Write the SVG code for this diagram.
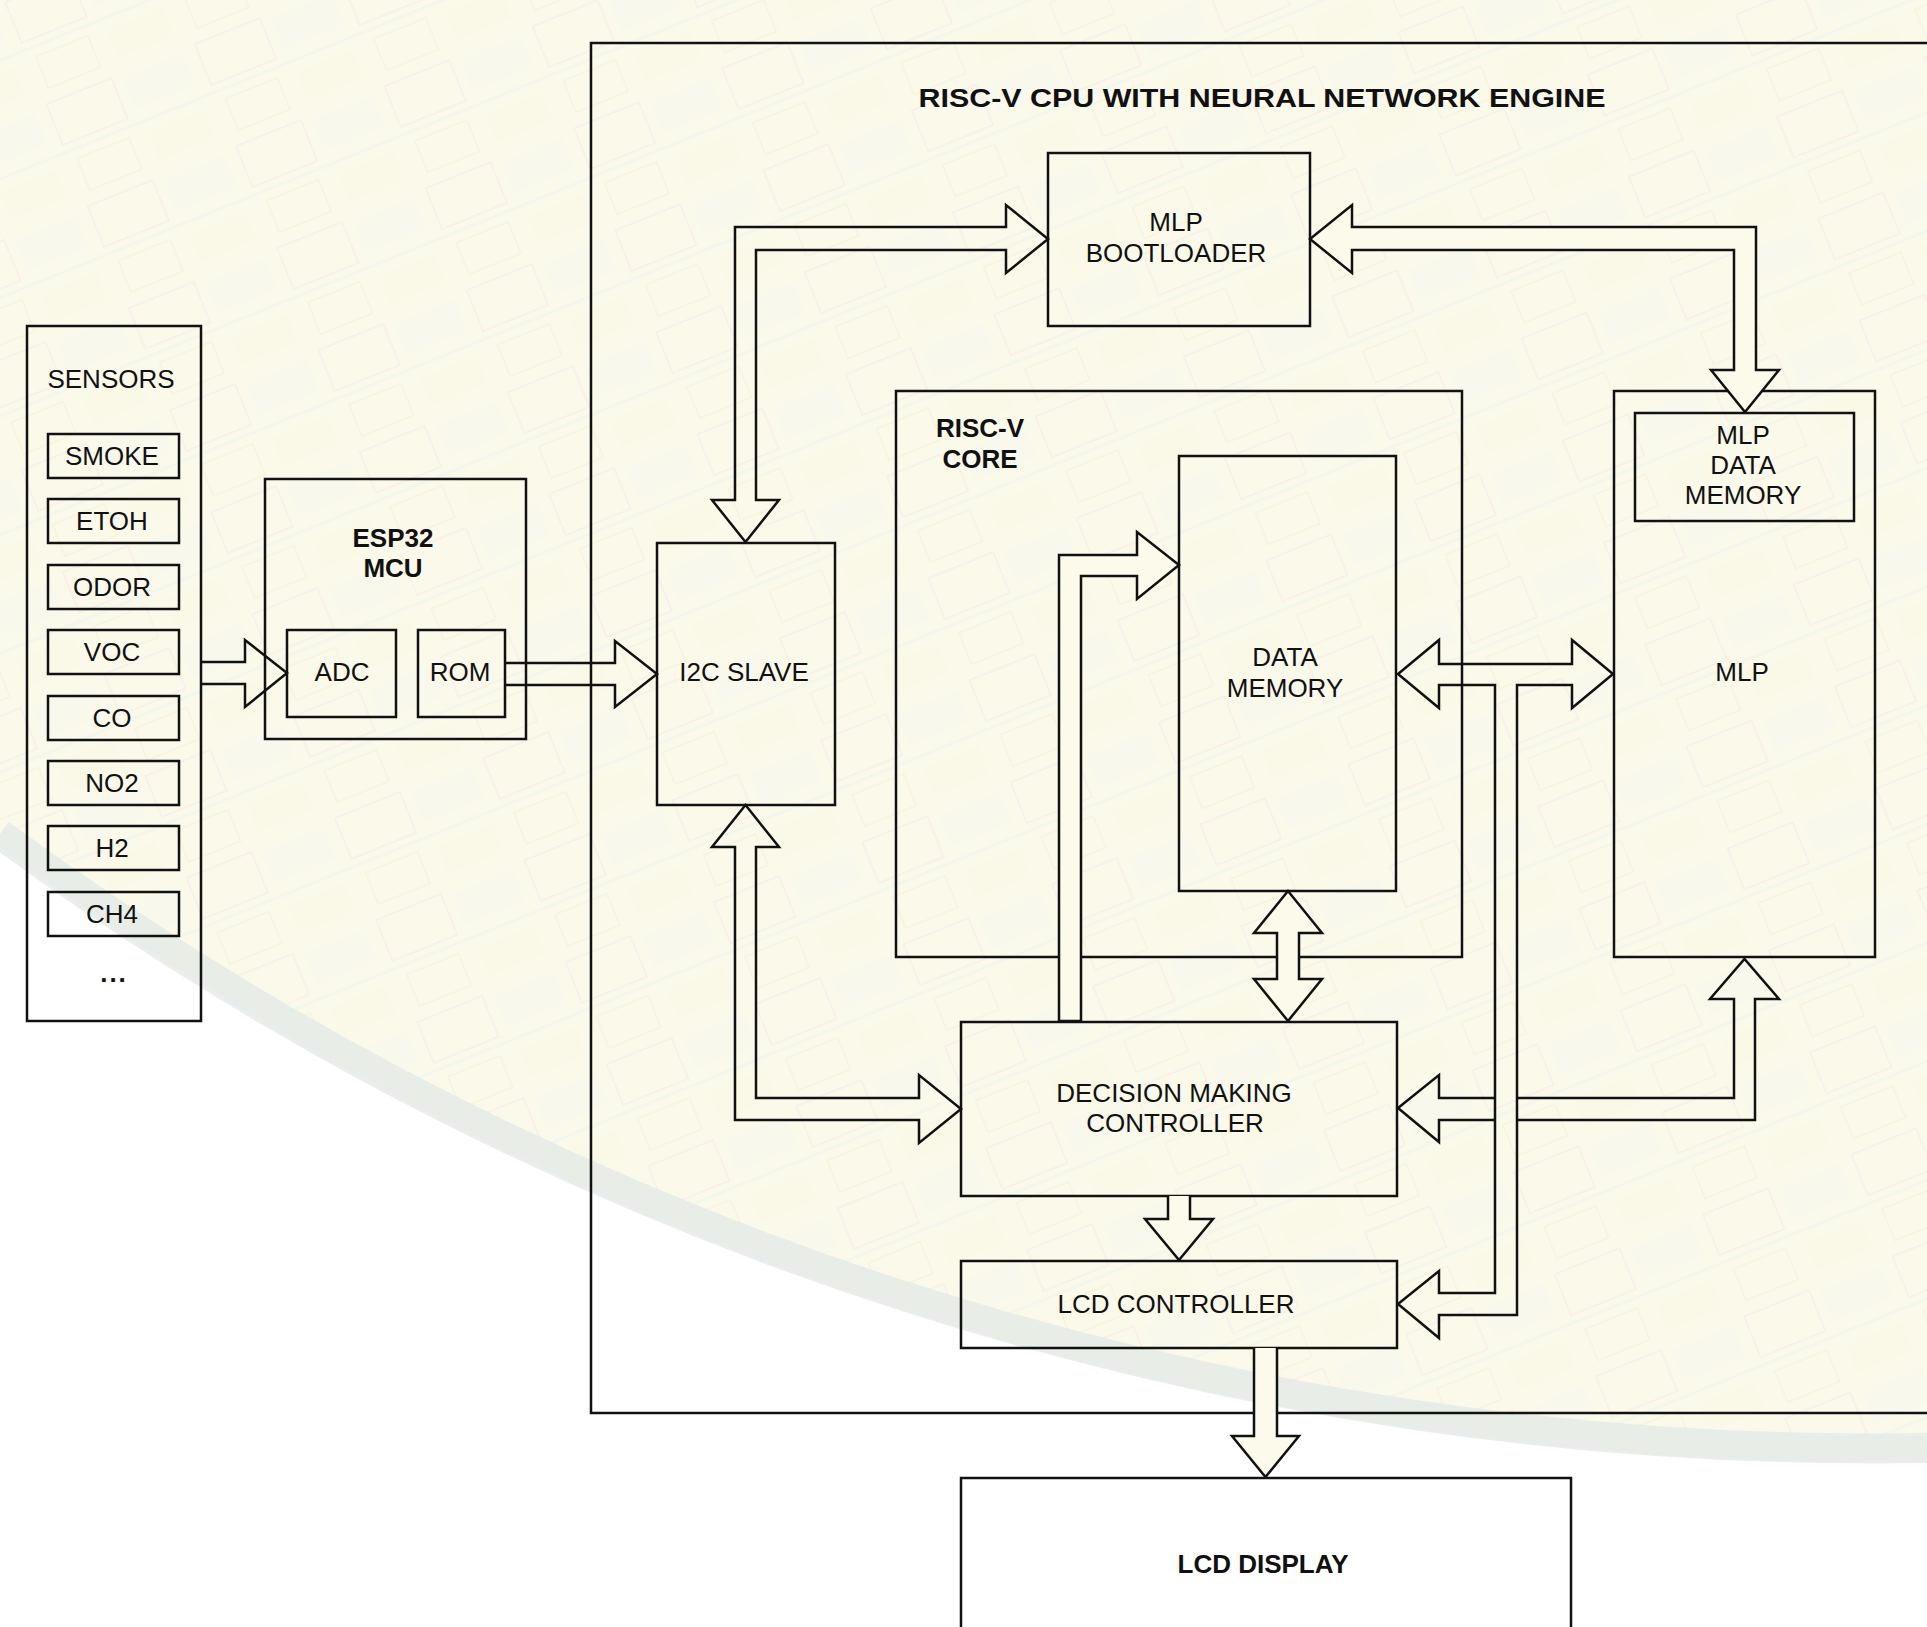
<svg xmlns="http://www.w3.org/2000/svg" width="1927" height="1627" viewBox="0 0 1927 1627">
  <defs>
    <style>
      .box { fill: none; stroke: #111; stroke-width: 2.5; }
      .arr { fill: none; stroke: #111; stroke-width: 2.5; stroke-linejoin: miter; }
      .arrf { fill: #fbfaeb; stroke: #111; stroke-width: 2.5; stroke-linejoin: miter; }
      .t { font-family: "Liberation Sans", Arial, Helvetica, sans-serif; font-size: 26px; text-anchor: middle; fill: #111; }
      .b { font-weight: bold; }
      .dots { font-variant-ligatures: none; font-feature-settings: "liga" 0; }
    </style>
    <pattern id="chip" width="160" height="110" patternUnits="userSpaceOnUse" patternTransform="rotate(-22)">
      <rect x="4" y="4" width="70" height="44" fill="none" stroke="#f3d9ee" stroke-width="2"/>
      <rect x="84" y="8" width="66" height="34" fill="#eeeef8" opacity="0.6"/>
      <line x1="0" y1="56" x2="160" y2="56" stroke="#dfeef3" stroke-width="3"/>
      <rect x="12" y="66" width="56" height="34" fill="none" stroke="#f1e6cf" stroke-width="2"/>
      <rect x="88" y="68" width="60" height="30" fill="#f4ecd9" opacity="0.5"/>
    </pattern>
  </defs>

  <!-- background -->
  <rect x="0" y="0" width="1927" height="1627" fill="#ffffff"/>
  <path d="M0,0 L1927,0 L1927,1462 A3165,3165 0 0 1 0,848 Z" fill="#fbfaea"/>
  <path d="M0,0 L1927,0 L1927,1462 A3165,3165 0 0 1 0,848 Z" fill="url(#chip)" opacity="0.3"/>
  <path d="M1927,1448 A3165,3165 0 0 1 0,834" fill="none" stroke="#e2e9e5" stroke-width="30" opacity="0.75"/>

  <!-- nodes -->
  <g id="outer">
    <rect class="box" x="591" y="43" width="1400" height="1370"/>
    <text class="t b" x="1262" y="107" font-size="30" textLength="687" lengthAdjust="spacingAndGlyphs">RISC-V CPU WITH NEURAL NETWORK ENGINE</text>
  </g>

  <g id="sensors">
    <rect class="box" x="27" y="326" width="174" height="695"/>
    <text class="t" x="111" y="388">SENSORS</text>
    <rect class="box" x="48" y="434" width="131" height="44"/>
    <text class="t" x="112" y="465">SMOKE</text>
    <rect class="box" x="48" y="499" width="131" height="44"/>
    <text class="t" x="112" y="530">ETOH</text>
    <rect class="box" x="48" y="565" width="131" height="44"/>
    <text class="t" x="112" y="596">ODOR</text>
    <rect class="box" x="48" y="630" width="131" height="44"/>
    <text class="t" x="112" y="661">VOC</text>
    <rect class="box" x="48" y="696" width="131" height="44"/>
    <text class="t" x="112" y="727">CO</text>
    <rect class="box" x="48" y="761" width="131" height="44"/>
    <text class="t" x="112" y="792">NO2</text>
    <rect class="box" x="48" y="826" width="131" height="44"/>
    <text class="t" x="112" y="857">H2</text>
    <rect class="box" x="48" y="892" width="131" height="44"/>
    <text class="t" x="112" y="923">CH4</text>
    <text class="t b dots" x="114" y="982" font-size="40" letter-spacing="2">...</text>
  </g>

  <g id="esp32">
    <rect class="box" x="265" y="479" width="261" height="260"/>
    <text class="t b" x="393" y="547">ESP32</text>
    <text class="t b" x="393" y="577">MCU</text>
  </g>
  <g id="adc">
    <rect class="box" x="287" y="630" width="109" height="87"/>
    <text class="t" x="342" y="681">ADC</text>
  </g>
  <g id="rom">
    <rect class="box" x="418" y="630" width="87" height="87"/>
    <text class="t" x="460" y="681">ROM</text>
  </g>

  <g id="mlp-bootloader">
    <rect class="box" x="1048" y="153" width="262" height="173"/>
    <text class="t" x="1176" y="231">MLP</text>
    <text class="t" x="1176" y="262">BOOTLOADER</text>
  </g>

  <g id="i2c-slave">
    <rect class="box" x="657" y="543" width="178" height="262"/>
    <text class="t" x="744" y="681">I2C SLAVE</text>
  </g>

  <g id="riscv-core">
    <rect class="box" x="896" y="391" width="566" height="566"/>
    <text class="t b" x="980" y="437">RISC-V</text>
    <text class="t b" x="980" y="468">CORE</text>
  </g>

  <g id="data-memory">
    <rect class="box" x="1179" y="456" width="217" height="435"/>
    <text class="t" x="1285" y="666">DATA</text>
    <text class="t" x="1285" y="697">MEMORY</text>
  </g>

  <g id="mlp">
    <rect class="box" x="1614" y="391" width="261" height="566"/>
    <text class="t" x="1742" y="681">MLP</text>
  </g>
  <g id="mlp-data-memory">
    <rect class="box" x="1635" y="413" width="219" height="108"/>
    <text class="t" x="1743" y="444">MLP</text>
    <text class="t" x="1743" y="474">DATA</text>
    <text class="t" x="1743" y="504">MEMORY</text>
  </g>

  <g id="decision-controller">
    <rect class="box" x="961" y="1022" width="436" height="174"/>
    <text class="t" x="1174" y="1102">DECISION MAKING</text>
    <text class="t" x="1175" y="1132">CONTROLLER</text>
  </g>

  <g id="lcd-controller">
    <rect class="box" x="961" y="1261" width="436" height="87"/>
    <text class="t" x="1176" y="1313">LCD CONTROLLER</text>
  </g>

  <g id="lcd-display">
    <rect class="box" x="961" y="1478" width="610" height="200"/>
    <text class="t b" x="1263" y="1573">LCD DISPLAY</text>
  </g>

  <!-- connectors -->
  <g id="connectors">
    <!-- sensors -> ADC -->
    <path class="arr" d="M201,662 L245,662 L245,640 L287,673 L245,707 L245,684 L201,684"/>
    <!-- ROM -> I2C -->
    <path class="arr" d="M505,663 L615,663 L615,641 L657,674 L615,707 L615,685 L505,685"/>
    <!-- I2C <-> bootloader -->
    <path class="arr" d="M735,500 L735,227 L1006,227 L1006,205 L1048,239 L1006,273 L1006,250 L756,250 L756,500 L779,500 L745.5,542 L712,500 Z"/>
    <!-- bootloader <-> MLP data memory -->
    <path class="arrf" d="M1352,227 L1352,205 L1310,239 L1352,273 L1352,250 L1734,250 L1734,370 L1711,370 L1745,412 L1779,370 L1756,370 L1756,227 Z"/>
    <!-- I2C <-> decision controller -->
    <path class="arr" d="M745.5,805 L779,847 L756,847 L756,1098 L919,1098 L919,1075 L961,1109 L919,1143 L919,1120 L735,1120 L735,847 L712,847 Z"/>
    <!-- decision controller -> data memory -->
    <path class="arrf" d="M1059,1021 L1059,555 L1137,555 L1137,532 L1179,565 L1137,599 L1137,576 L1081,576 L1081,1021 Z"/>
    <!-- data memory <-> decision controller -->
    <path class="arrf" d="M1288,891 L1322,933 L1299,933 L1299,979 L1322,979 L1288,1021 L1254,979 L1277,979 L1277,933 L1254,933 Z"/>
    <!-- data memory <-> MLP bus, down to LCD controller -->
    <path class="arr" d="M1572,664 L1439,664 L1439,640 L1398,674 L1439,708 L1439,685 L1495,685 L1495,1293 L1439,1293 L1439,1271 L1398,1304 L1439,1338 L1439,1315 L1517,1315 L1517,685 L1572,685 L1572,708 L1613,674 L1572,640 Z"/>
    <!-- bus branch -> decision controller -->
    <path class="arr" d="M1495,1098 L1439,1098 L1439,1075 L1398,1108 L1439,1142 L1439,1120 L1495,1120"/>
    <!-- bus branch -> MLP -->
    <path class="arr" d="M1517,1098 L1734,1098 L1734,999 L1710,999 L1744.5,959 L1779,999 L1755,999 L1755,1120 L1517,1120"/>
    <!-- decision controller -> LCD controller -->
    <path class="arrf" d="M1168,1196 L1168,1219 L1145,1219 L1179,1260 L1213,1219 L1190,1219 L1190,1196"/>
    <!-- LCD controller -> LCD display -->
    <path class="arrf" d="M1254,1348 L1254,1436 L1232,1436 L1265.5,1477 L1299,1436 L1277,1436 L1277,1348"/>
  </g>
</svg>
